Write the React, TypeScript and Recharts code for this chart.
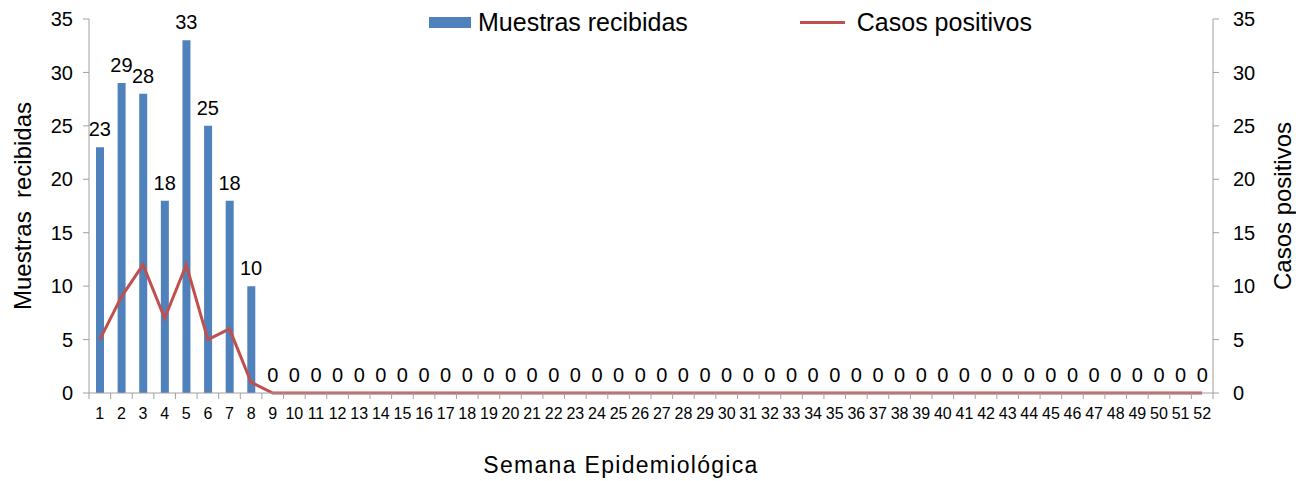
import React from 'react'
import { ComposedChart, Bar, Line, XAxis, YAxis, Legend, LabelList } from 'recharts'

const weeks = [
  '1', '2', '3', '4', '5', '6', '7', '8', '9', '10', '11', '12', '13',
  '14', '15', '16', '17', '18', '19', '20', '21', '22', '23', '24', '25', '26',
  '27', '28', '29', '30', '31', '32', '33', '34', '35', '36', '37', '38', '39',
  '40', '41', '42', '43', '44', '45', '46', '47', '48', '49', '50', '51', '52',
]
const muestras = [
  23, 29, 28, 18, 33, 25, 18, 10, 0, 0, 0, 0, 0,
  0, 0, 0, 0, 0, 0, 0, 0, 0, 0, 0, 0, 0,
  0, 0, 0, 0, 0, 0, 0, 0, 0, 0, 0, 0, 0,
  0, 0, 0, 0, 0, 0, 0, 0, 0, 0, 0, 0, 0,
]
const positivos = [
  5, 9, 12, 7, 12, 5, 6, 1, 0, 0, 0, 0, 0,
  0, 0, 0, 0, 0, 0, 0, 0, 0, 0, 0, 0, 0,
  0, 0, 0, 0, 0, 0, 0, 0, 0, 0, 0, 0, 0,
  0, 0, 0, 0, 0, 0, 0, 0, 0, 0, 0, 0, 0,
]
const yTicks = [0, 5, 10, 15, 20, 25, 30, 35]

const data = weeks.map((w, i) => ({ week: w, muestras: muestras[i], positivos: positivos[i] }))

const FONT = '"Liberation Sans", Arial, sans-serif'
const AXIS = '#a0a0a0'
const BLUE = '#4F81BD'
const RED = '#C0504D'

const WeekTick = (props: any) => {
  const { x, y, payload, index } = props
  const half = payload && payload.offset ? payload.offset : 10.8
  return (
    <g>
      <line x1={x - half} x2={x - half} y1={y - 6} y2={y} stroke={AXIS} />
      {index === weeks.length - 1 && <line x1={x + half} x2={x + half} y1={y - 6} y2={y} stroke={AXIS} />}
      <text x={x} y={y + 9} dy="0.71em" textAnchor="middle" fontSize={16} fill="#000" fontFamily={FONT}>
        {payload.value}
      </text>
    </g>
  )
}

const leftTitle = (props: any) => {
  const vb = props.viewBox
  const cx = vb.x + 22
  const cy = vb.y + vb.height / 2
  return (
    <text x={cx} y={cy} transform={`rotate(-90 ${cx} ${cy})`} textAnchor="middle" dominantBaseline="central"
      fontSize={24} fill="#000" fontFamily={FONT}>
      {'Muestras \u00A0recibidas'}
    </text>
  )
}

const rightTitle = (props: any) => {
  const vb = props.viewBox
  const cx = vb.x + 69
  const cy = vb.y + vb.height / 2
  return (
    <text x={cx} y={cy} transform={`rotate(-90 ${cx} ${cy})`} textAnchor="middle" dominantBaseline="central"
      fontSize={24} fill="#000" fontFamily={FONT}>
      Casos positivos
    </text>
  )
}

const bottomTitle = (props: any) => {
  const vb = props.viewBox
  return (
    <text x={621} y={vb.y + vb.height - 8} textAnchor="middle" fontSize={23} letterSpacing={1.3} fill="#000" fontFamily={FONT}>
      Semana Epidemiológica
    </text>
  )
}

const LegendBox = () => (
  <div style={{ display: 'flex', alignItems: 'center', fontFamily: FONT, fontSize: 25, lineHeight: '30px', color: '#000' }}>
    <span style={{ display: 'inline-block', width: 42, height: 11, background: BLUE, marginRight: 7 }} />
    <span>Muestras recibidas</span>
    <span style={{ display: 'inline-block', width: 45, height: 3, background: RED, marginLeft: 112, marginRight: 12 }} />
    <span>Casos positivos</span>
  </div>
)

const App = () => {
  return (
    <div style={{ position: 'absolute', left: 0, top: 0, background: '#fff' }}>
      <ComposedChart width={1296} height={481} data={data} margin={{ top: 19, right: 0, left: 0, bottom: 0 }}
        style={{ fontFamily: FONT }}>
        <XAxis dataKey="week" height={88} axisLine={{ stroke: AXIS }} tickLine={false} tickSize={6} tickMargin={0}
          interval={0} tick={<WeekTick />} label={bottomTitle} />
        <YAxis yAxisId="left" width={89} domain={[0, 35]} ticks={yTicks} interval={0} axisLine={{ stroke: AXIS }}
          tickLine={{ stroke: AXIS }} tickSize={6} tickMargin={10} tick={{ fill: '#000', fontSize: 20 }} label={leftTitle} />
        <YAxis yAxisId="right" orientation="right" width={83} domain={[0, 35]} ticks={yTicks} interval={0}
          axisLine={{ stroke: AXIS }} tickLine={{ stroke: AXIS }} tickSize={6} tickMargin={14}
          tick={{ fill: '#000', fontSize: 20, textAnchor: 'start' }} label={rightTitle} />
        <Legend layout="horizontal" verticalAlign="middle" align="center" content={<LegendBox />}
          wrapperStyle={{ top: 7, left: 429, width: 700 }} />
        <Bar yAxisId="left" dataKey="muestras" name="Muestras recibidas" fill={BLUE} barSize={8} isAnimationActive={false} />
        {/* invisible carrier for the bar value labels, so that zero values get their "0" too */}
        <Line yAxisId="left" type="linear" dataKey="muestras" stroke="none" dot={false} activeDot={false}
          legendType="none" isAnimationActive={false}>
          <LabelList dataKey="muestras" position="top" offset={11} fill="#000" fontSize={20} fontFamily={FONT} />
        </Line>
        <Line yAxisId="right" type="linear" dataKey="positivos" name="Casos positivos" stroke={RED} strokeWidth={3}
          dot={false} activeDot={false} isAnimationActive={false} />
      </ComposedChart>
    </div>
  )
}

export default App
